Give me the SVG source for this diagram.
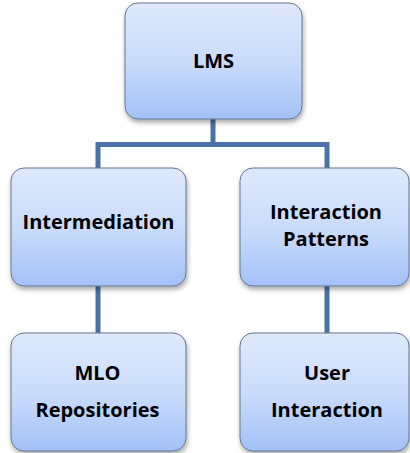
<svg xmlns="http://www.w3.org/2000/svg" width="410" height="453" viewBox="0 0 410 453">
  <defs>
    <linearGradient id="boxFill" x1="0" y1="0" x2="0" y2="1">
      <stop offset="0" stop-color="#dfe9fc"/>
      <stop offset="0.5" stop-color="#cadcfb"/>
      <stop offset="1" stop-color="#a3c1f7"/>
    </linearGradient>
    <filter id="shadow" x="-10%" y="-10%" width="125%" height="130%">
      <feDropShadow dx="1" dy="3" stdDeviation="2.5" flood-color="#000" flood-opacity="0.35"/>
    </filter>
    <style>
      .box { fill: url(#boxFill); stroke: #66768f; stroke-width: 1; filter: url(#shadow); }
      .label { font-family: "Open Sans", "Liberation Sans", sans-serif; font-weight: bold; font-size: 20px; fill: #000; text-anchor: middle; }
      .link { fill: none; stroke: #4a72a6; stroke-width: 5; stroke-linejoin: miter; stroke-linecap: butt; }
    </style>
  </defs>

  <!-- connectors of the tree -->
  <g id="connectors">
    <path class="link" d="M213,119 V144.5"/>
    <path class="link" d="M98,168 V144.5 H327 V168"/>
    <path class="link" d="M98,286 V333"/>
    <path class="link" d="M327,286 V333"/>
  </g>

  <g id="node-lms">
    <rect class="box" x="125" y="3" width="177" height="116" rx="13"/>
    <text class="label" x="213.5" y="68">LMS</text>
  </g>

  <g id="node-intermediation">
    <rect class="box" x="11" y="168" width="175" height="118" rx="13"/>
    <text class="label" x="98.5" y="229">Intermediation</text>
  </g>

  <g id="node-interaction-patterns">
    <rect class="box" x="240" y="168" width="169" height="118" rx="13"/>
    <text class="label" x="326" y="218.5">Interaction</text>
    <text class="label" x="326" y="245.5">Patterns</text>
  </g>

  <g id="node-mlo-repositories">
    <rect class="box" x="11" y="333" width="175" height="118" rx="13"/>
    <text class="label" x="97.5" y="380">MLO</text>
    <text class="label" x="97.5" y="417">Repositories</text>
  </g>

  <g id="node-user-interaction">
    <rect class="box" x="240" y="333" width="169" height="118" rx="13"/>
    <text class="label" x="327" y="380">User</text>
    <text class="label" x="327" y="417">Interaction</text>
  </g>
</svg>
